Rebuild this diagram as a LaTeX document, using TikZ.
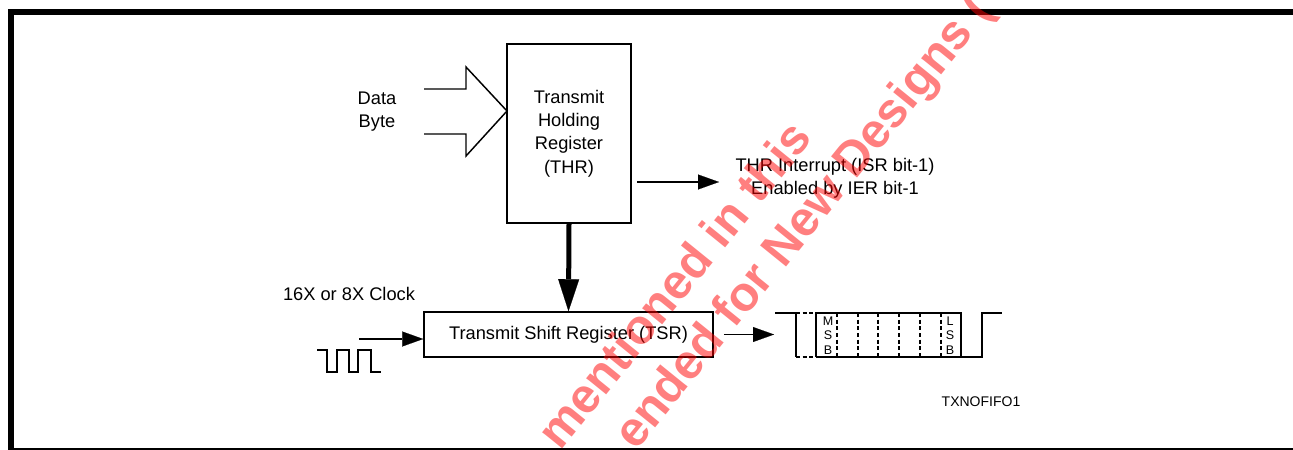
\documentclass[tikz,border=0pt]{standalone}
\usepackage{fontspec}
\setmainfont{Liberation Sans}
\usetikzlibrary{arrows.meta}
\begin{document}
\begin{tikzpicture}[x=0.75pt,y=-0.75pt,
  lbl/.style={font=\fontsize{13.7}{17.4}\selectfont, align=center, inner sep=0pt},
  regbox/.style={draw, line width=1.2pt, lbl},
  thin/.style={line width=1.1pt},
  tip/.style={-{Triangle[length=15.75pt,width=11.25pt,line width=0.1pt]}},
  bigtip/.style={-{Triangle[length=24pt,width=15.75pt,line width=0.1pt]}, line width=3.75pt},
  sig/.style={line width=1.1pt, line join=miter},
  sigdash/.style={line width=1.1pt, dash pattern=on 3pt off 2pt},
  bit/.style={font=\fontsize{9.4}{10}\selectfont, inner sep=0pt},
  tag/.style={font=\fontsize{10.5}{12}\selectfont, inner sep=0pt},
  wm/.style={font=\fontsize{36.5}{44}\selectfont\bfseries, text=red, text opacity=0.5, anchor=base west, rotate=51, inner sep=0pt}
]
\useasboundingbox (0,0) rectangle (1293,450);
% frame
\fill (8,9) rectangle (1293,15);
\fill (8,9) rectangle (14,450);
\fill (14,448.3) rectangle (1293,449.8);

% registers
\node[regbox, minimum width=93pt, minimum height=134.25pt] (THR) at (569,133.5) {Transmit\\Holding\\Register\\(THR)};
\node[regbox, minimum width=216.75pt, minimum height=33.75pt] (TSR) at (568.5,334.5) {Transmit Shift Register (TSR)};

% data byte input
\node[lbl] (data) at (377,111.5) {Data\\Byte};
\draw[thin, line join=miter] (424,89) -- (466,89) -- (466,67) -- (507,111) -- (466,156) -- (466,134) -- (424,134);

% interrupt
\coordinate (intS) at (637,182);
\coordinate (intE) at (719,182);
\draw[thin, tip] (intS) -- (intE);
\node[lbl] (intr) at (835,178) {THR Interrupt (ISR bit-1)\\Enabled by IER bit-1};

% THR -> TSR
\draw[bigtip] (THR.south) -- (TSR.north);

% clock
\node[lbl] (clk) at (349,294) {16X or 8X Clock};
\coordinate (clkS) at (359,339);
\draw[thin, tip] (clkS) -- (TSR.west |- clkS);
\draw[sig] (317,350) -- (327,350) -- (327,372) -- (337,372) -- (337,350) -- (349,350) -- (349,372) -- (358,372) -- (358,350) -- (371,350) -- (371,372) -- (381,372);

% TSR -> serial out
\coordinate (txE) at (774,334.5);
\draw[thin, tip] ([xshift=7.5pt]TSR.east) -- (txE);

% serial waveform
\draw[sig] (775,313) -- (796,313) -- (796,357);
\draw[sigdash] (796,313) -- (816,313);
\draw[sigdash] (796,357) -- (816,357);
\draw[sig] (816,357) -- (816,313) -- (961,313) -- (961,357);
\draw[sig] (816,357) -- (982,357) -- (982,313) -- (1002,313);
\foreach \x in {837,858,878,899,920,941}{
  \draw[sigdash] (\x,313) -- (\x,357);
}
\node[bit] (m1) at (828,321) {M};
\node[bit] (m2) at (828,335) {S};
\node[bit] (m3) at (828,350) {B};
\node[bit] (l1) at (950,321) {L};
\node[bit] (l2) at (950,335) {S};
\node[bit] (l3) at (950,350) {B};

\node[tag] (txn) at (981,402) {TXNOFIFO1};

% watermark
\begin{scope}
\clip (0,0) rectangle (1293,450);
\node[wm] (wm1) at (560,452) {mentioned in this};
\node[wm] (wm2) at (636,452) {ended for New Designs (};
\end{scope}
\end{tikzpicture}
\end{document}
